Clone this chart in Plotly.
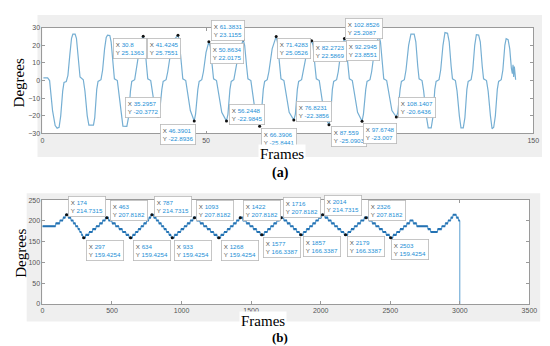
import plotly.graph_objects as go

# ---------------- Panel (a) data ----------------
a_frames = [0.3, 1.6, 2.2, 3.1, 3.9, 4.5, 5.1, 5.6, 6.2, 6.6, 7.3, 7.8, 8.4, 8.9, 9.3, 10.0, 10.4, 11.0, 11.5, 12.5,
            13.0, 13.7, 14.2, 15.6, 16.0, 16.6, 17.0, 17.9, 18.4, 19.0, 19.5, 19.9, 20.6, 21.0, 21.6, 22.0, 22.9,
            23.4, 24.1, 24.6, 25.8, 26.3, 26.9, 27.3, 28.2, 28.7, 29.4, 30.1, 30.8, 31.2, 31.8, 32.2, 33.1, 33.6,
            34.4, 35.2957, 35.8, 36.5, 36.9, 37.8, 38.3, 39.2, 40.4, 41.4245, 41.8, 42.5, 42.9, 43.8, 44.3, 45.2,
            46.3901, 46.8, 47.5, 47.9, 48.7, 49.2, 50.0, 50.8634, 51.3, 51.9, 52.3, 53.2, 53.7, 54.8, 56.2448,
            56.7, 57.3, 57.7, 58.5, 59.0, 60.0, 61.3831, 61.8, 62.4, 62.8, 63.7, 64.2, 65.2, 66.3906, 66.8, 67.5,
            67.9, 68.7, 69.2, 70.2, 71.4283, 71.8, 72.5, 72.9, 73.8, 74.3, 75.4, 76.8231, 77.3, 77.9, 78.3, 79.2,
            79.7, 80.9, 82.2723, 82.7, 83.3, 83.7, 84.6, 85.1, 86.2, 87.559, 88.0, 88.6, 89.0, 89.9, 90.4, 91.3,
            92.2945, 92.7, 93.4, 93.8, 94.7, 95.2, 96.3, 97.6748, 98.1, 98.8, 99.2, 100.1, 100.6, 101.6, 102.8526,
            103.3, 103.9, 104.3, 105.2, 105.7, 106.8, 108.1407, 108.6, 109.3, 109.7, 110.6, 111.1, 111.9, 112.6,
            113.6, 114.1, 114.7, 115.1, 116.0, 116.5, 117.3, 117.9, 118.8, 119.3, 119.9, 120.3, 121.2, 121.7,
            122.4, 123.0, 123.8, 124.3, 124.9, 125.3, 126.2, 126.7, 127.4, 127.9, 128.6, 129.1, 129.7, 130.1,
            131.0, 131.5, 132.1, 132.6, 133.3, 133.8, 134.4, 134.8, 135.7, 136.2, 136.9, 137.4, 137.9, 138.4,
            139.0, 139.4, 140.2, 140.7, 141.3, 141.7, 142.3, 142.8, 143.3, 143.6, 143.8, 144.0, 144.2, 144.4, 144.6]
a_degrees = [1.5, 1.5, 0, -17, -25.5, -27, -26.5, -20, -6, -1, -0.5, 3, 15, 24, 26.3, 26.3, 24, 12, 2, 0.5,
             -6, -20, -25.2, -25.2, -21, -5, -0.5, 0.5, 6, 18, 24.5, 25.8, 25.6, 22, 9, 1, 0,
             -7, -20, -25.8, -26, -21, -6, -0.5, 0.5, 6, 16, 23, 25.1363, 22, 9, 1, 0, -6,
             -16, -20.3772, -18, -5, -0.5, 0.5, 5, 16, 23.5, 25.7551, 23, 9, 1, 0, -6, -17,
             -22.8936, -19, -5, -0.5, 0.5, 5, 16, 22.0175, 19, 8, 1, 0, -6, -18, -22.9845,
             -19, -5, -0.5, 0.5, 5, 16, 23.1155, 20, 8, 1, 0, -6, -20, -25.8441, -21, -5,
             -0.5, 0.5, 5, 18, 25.0526, 22, 8, 1, 0, -6, -18, -22.3856, -19, -5, -0.5, 0.5,
             5, 17, 22.5869, 20, 8, 1, 0, -6, -20, -25.0903, -21, -5, -0.5, 0.5, 5, 18,
             23.8551, 21, 8, 1, 0, -6, -18, -23.007, -19, -5, -0.5, 0.5, 5, 19, 25.2087,
             22, 8, 1, 0, -6, -17, -20.6436, -18, -5, -0.5, 0.5, 6, 20, 26.3,
             26.3, 22, 8, 1, 0, -6, -20, -26.8, -26.8, -21, -5, -0.5, 0.5, 6,
             20, 27.2, 26.8, 22, 8, 1, 0, -6, -20, -26.8, -26.8, -21, -5, -0.5,
             0.5, 6, 20, 26, 25.8, 22, 8, 1, 0, -6, -20, -27.3, -26.5, -20,
             -5, -0.5, 0.5, 6, 20, 23.8, 23.2, 18, 7, 4, 9, 2, 8, 1, 0.5]

a_tick_vals = [0, 50, 100, 150]
a_tick_text = ["0", "50", "", "150"]   # the 100 label is hidden behind a data tip in the reference

a_tip_x = [30.8, 41.4245, 61.3831, 50.8634, 35.2957, 46.3901, 56.2448, 66.3906,
           71.4283, 82.2723, 102.8526, 92.2945, 76.8231, 87.559, 97.6748, 108.1407]
a_tip_y = [25.1363, 25.7551, 23.1155, 22.0175, -20.3772, -22.8936, -22.9845, -25.8441,
           25.0526, 22.5869, 25.2087, 23.8551, -22.3856, -25.0903, -23.007, -20.6436]
# box offset (px) of top-left corner relative to the marked point
a_tip_dx = [-30, -31, -32, 1.5, -33, -34, 2.5, 1.7, 1, 1, -34, 1.4, 2, 2, 1.4, 1.5]
a_tip_dy = [1.4, 2.5, -20, 1, -20, 2.6, -17.6, 2.3, 1.3, 0, -18.5, 1.2, -18.6, 0.7, 2.3, -19.5]

# ---------------- Panel (b) data ----------------
b_levels = [159.4254, 166.3387, 173.252, 180.1653, 187.0786, 193.9919, 200.9052, 207.8182, 214.7315]
b_step_frames = [0, 95, 125, 148, 165, 185, 205, 222, 238, 255, 268, 280, 290,
                 310, 335, 360, 385, 410, 432, 452,
                 475, 500, 525, 550, 575, 600, 622,
                 648, 668, 688, 708, 728, 748, 765, 780,
                 800, 818, 836, 855, 873, 891, 909, 925,
                 948, 972, 995, 1018, 1040, 1062, 1083,
                 1108, 1133, 1158, 1183, 1208, 1232, 1256,
                 1282, 1305, 1328, 1350, 1372, 1394, 1414,
                 1440, 1465, 1490, 1515, 1540, 1565,
                 1595, 1618, 1640, 1662, 1684, 1705,
                 1735, 1758, 1781, 1804, 1827, 1848,
                 1875, 1897, 1920, 1942, 1964, 1985, 2005,
                 2030, 2053, 2076, 2099, 2122, 2145, 2168,
                 2195, 2218, 2241, 2264, 2287, 2312,
                 2345, 2370, 2395, 2420, 2445, 2470, 2495,
                 2520, 2545, 2570, 2595, 2618, 2640,
                 2665, 2690, 2770, 2790, 2840, 2870, 2895, 2915, 2935, 2950, 2975, 2990]
b_step_level = [4, 5, 6, 7, 8, 7, 6, 5, 4, 3, 2, 1, 0,
                1, 2, 3, 4, 5, 6, 7,
                6, 5, 4, 3, 2, 1, 0,
                1, 2, 3, 4, 5, 6, 7, 8,
                7, 6, 5, 4, 3, 2, 1, 0,
                1, 2, 3, 4, 5, 6, 7,
                6, 5, 4, 3, 2, 1, 0,
                1, 2, 3, 4, 5, 6, 7,
                6, 5, 4, 3, 2, 1,
                2, 3, 4, 5, 6, 7,
                6, 5, 4, 3, 2, 1,
                2, 3, 4, 5, 6, 7, 8,
                7, 6, 5, 4, 3, 2, 1,
                2, 3, 4, 5, 6, 7,
                6, 5, 4, 3, 2, 1, 0,
                1, 2, 3, 4, 5, 6,
                5, 4, 3, 2, 3, 4, 5, 6, 7, 8, 7, 6]
b_end_frame = 3000
b_end_value = 0

b_tip_x = [174, 463, 787, 1093, 1422, 1716, 2014, 2326, 297, 634, 933, 1268, 1577, 1857, 2179, 2503]
b_tip_y = [214.7315, 207.8182, 214.7315, 207.8182, 207.8182, 207.8182, 214.7315, 207.8182,
           159.4254, 159.4254, 159.4254, 159.4254, 166.3387, 166.3387, 166.3387, 159.4254]
b_tip_dx = [1.3, 3.4, 2.5, 2, 2.5, 2, 1.6, 2.4, 2, 2, 2, 2, 1.5, 2, 1.5, 0.5]
b_tip_dy = [-19, -18, -19, -18, -18, -21, -20, -18, 2.6, 2.6, 2.6, 2.6, 2.5, 1, 1, 1]

# ---------------- figure ----------------
W, H = 550, 346
BLUE_TXT = "#1b8fd6"
GRAY_TXT = "#555555"

def px(x):
    return x / W

def py(y):
    return 1 - y / H

fig = go.Figure()

fig.add_trace(go.Scatter(x=a_frames, y=a_degrees, mode="lines",
                         line=dict(color="#76afd3", width=1.2), xaxis="x", yaxis="y",
                         hoverinfo="skip"))
fig.add_trace(go.Scatter(x=a_tip_x, y=a_tip_y, mode="markers",
                         marker=dict(color="#111111", size=3), xaxis="x", yaxis="y"))

b_vals = [b_levels[i] for i in b_step_level]
fig.add_trace(go.Scatter(x=b_step_frames + [b_end_frame], y=b_vals + [b_end_value],
                         mode="lines", line=dict(color="#5a9fd0", width=1, shape="hv"),
                         xaxis="x2", yaxis="y2"))
# plateau segments drawn thicker
plx, ply = [], []
for i in range(len(b_step_frames)):
    x0 = b_step_frames[i]
    x1 = b_step_frames[i + 1] if i + 1 < len(b_step_frames) else b_end_frame
    plx += [x0, x1, None]
    ply += [b_vals[i], b_vals[i], None]
fig.add_trace(go.Scatter(x=plx, y=ply, mode="lines", line=dict(color="#2472b3", width=2.2),
                         xaxis="x2", yaxis="y2"))
fig.add_trace(go.Scatter(x=b_tip_x, y=b_tip_y, mode="markers",
                         marker=dict(color="#111111", size=3), xaxis="x2", yaxis="y2"))

annotations = []

def tip(x, y, dx, dy, xr, yr):
    txt = (f"<span style='color:{GRAY_TXT}'>X</span> <span style='color:{BLUE_TXT}'>{x}</span><br>"
           f"<span style='color:{GRAY_TXT}'>Y</span> <span style='color:{BLUE_TXT}'>{y}</span>")
    annotations.append(dict(x=x, y=y, xref=xr, yref=yr, text=txt, showarrow=False,
                            xanchor="left", yanchor="top", xshift=dx, yshift=-dy,
                            align="left", bgcolor="white", bordercolor="#b8b8b8",
                            borderwidth=0.8, borderpad=2,
                            font=dict(family="Liberation Sans, Arial", size=6.2, color=BLUE_TXT)))

for x, y, dx, dy in zip(a_tip_x, a_tip_y, a_tip_dx, a_tip_dy):
    tip(x, y, dx, dy, "x", "y")
for x, y, dx, dy in zip(b_tip_x, b_tip_y, b_tip_dx, b_tip_dy):
    tip(x, y, dx, dy, "x2", "y2")

serif = "Liberation Serif, Times New Roman, serif"

def label(text, x, y, size, angle=0, bg=None, bold=False):
    annotations.append(dict(x=px(x), y=py(y), xref="paper", yref="paper",
                            text=f"<b>{text}</b>" if bold else text, showarrow=False,
                            xanchor="center", yanchor="middle", textangle=angle,
                            bgcolor=bg, borderpad=1,
                            font=dict(family=serif, size=size, color="black")))

label("Degrees", 9, 72, 15, angle=-90)
label("Frames", 277, 145, 15, bg="white")
label("(a)", 275, 164, 14, bold=True)
label("Degrees", 11, 246, 15, angle=-90)
label("Frames", 258, 315, 15, bg="white")
label("(b)", 275, 332, 13, bold=True)

shapes = [
    dict(type="rect", xref="paper", yref="paper", x0=px(28), x1=px(548), y0=py(148), y1=py(3),
         fillcolor="#efefef", line=dict(width=0), layer="below"),
    dict(type="rect", xref="paper", yref="paper", x0=px(33), x1=px(533), y0=py(124), y1=py(16),
         fillcolor="white", line=dict(width=0), layer="below"),
    dict(type="rect", xref="paper", yref="paper", x0=px(17), x1=px(540), y0=py(316), y1=py(185),
         fillcolor="#efefef", line=dict(width=0), layer="below"),
    dict(type="rect", xref="paper", yref="paper", x0=px(33), x1=px(529), y0=py(298), y1=py(192),
         fillcolor="white", line=dict(width=0), layer="below"),
]

axis_common = dict(showline=True, linecolor="#9a9a9a", linewidth=0.8, mirror="allticks",
                   ticks="inside", ticklen=3, tickcolor="#9a9a9a", showgrid=False, zeroline=False,
                   tickfont=dict(family="Liberation Sans, Arial", size=7, color="#555555"))

fig.update_layout(
    width=W, height=H, margin=dict(l=0, r=0, t=0, b=0),
    paper_bgcolor="white", plot_bgcolor="rgba(0,0,0,0)", showlegend=False,
    xaxis=dict(domain=[px(33), px(533)], range=[0, 150], tickvals=a_tick_vals, ticktext=a_tick_text,
               anchor="y", **axis_common),
    yaxis=dict(domain=[py(124), py(16)], range=[-30, 30], tickvals=[-30, -20, -10, 0, 10, 20, 30],
               anchor="x", **axis_common),
    xaxis2=dict(domain=[px(33), px(529)], range=[0, 3500], dtick=500, anchor="y2", **axis_common),
    yaxis2=dict(domain=[py(298), py(192)], range=[0, 250], dtick=50, anchor="x2", **axis_common),
    annotations=annotations, shapes=shapes,
)

fig.write_html("out.html")
